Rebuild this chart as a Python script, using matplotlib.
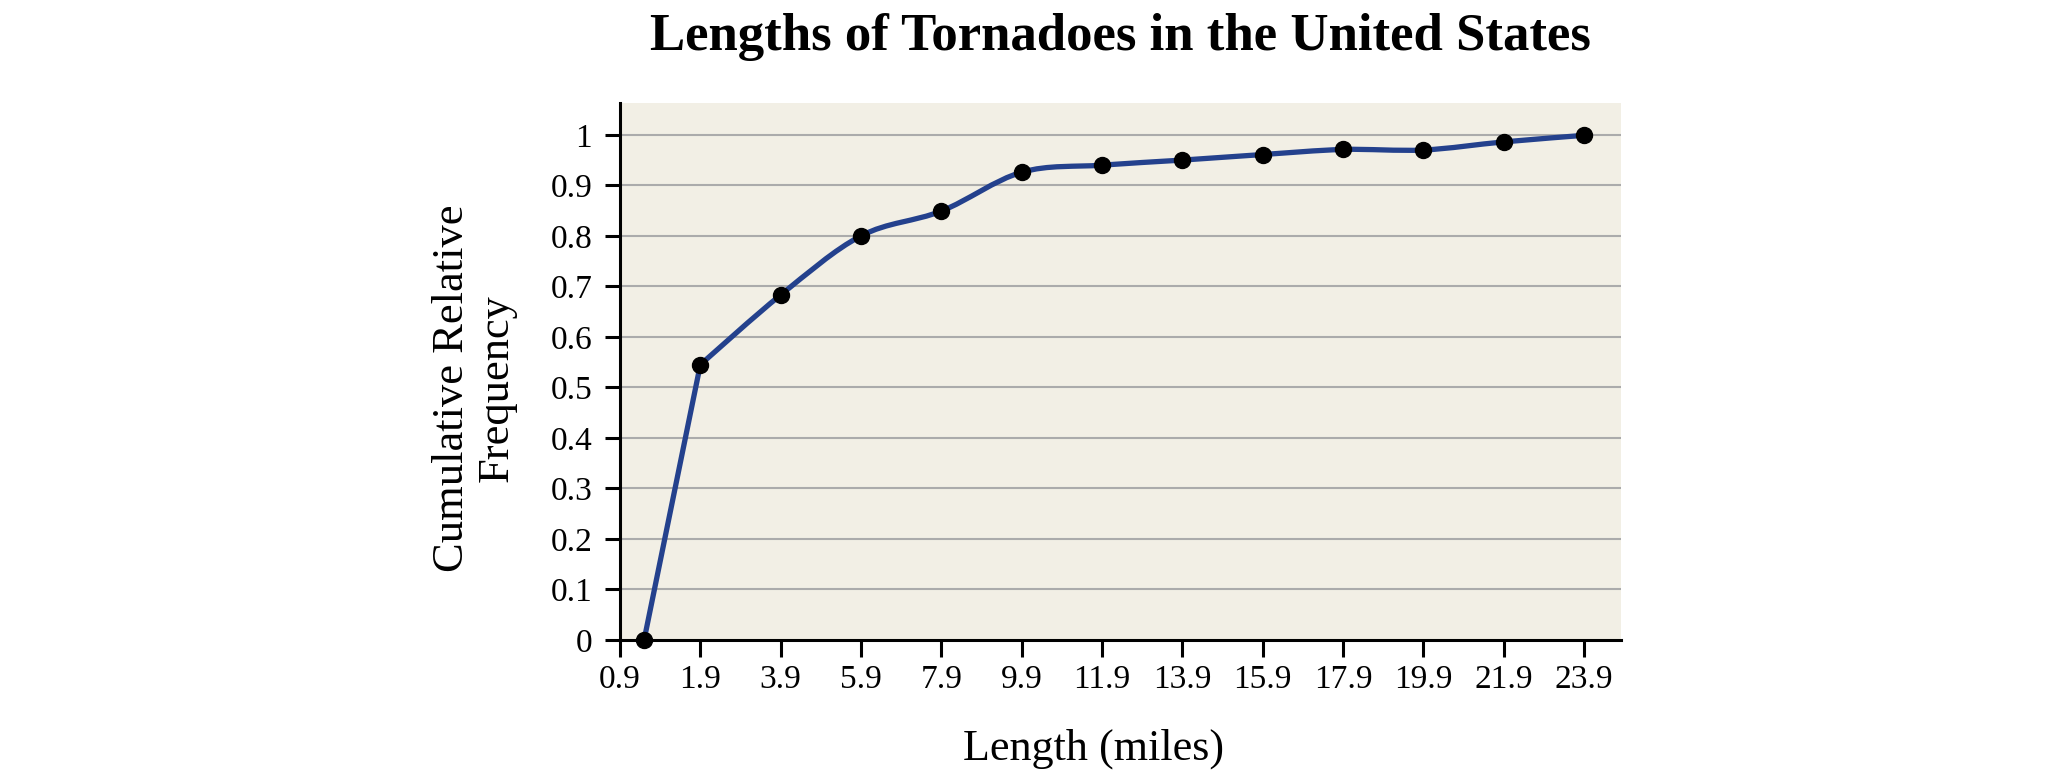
import numpy as np
import matplotlib
matplotlib.use("Agg")
import matplotlib.pyplot as plt
from matplotlib.path import Path
from matplotlib.patches import PathPatch

# ---- data ----
tick_labels = ["0.9", "1.9", "3.9", "5.9", "7.9", "9.9", "11.9", "13.9",
               "15.9", "17.9", "19.9", "21.9", "23.9"]
cum_rel_freq = [0.0, 0.545, 0.683, 0.800, 0.849, 0.926, 0.940, 0.950,
                0.961, 0.971, 0.970, 0.986, 0.999]
y_ticks = [0, 0.1, 0.2, 0.3, 0.4, 0.5, 0.6, 0.7, 0.8, 0.9, 1]
y_tick_labels = ["0", "0.1", "0.2", "0.3", "0.4", "0.5", "0.6", "0.7",
                 "0.8", "0.9", "1"]

title = "Lengths of Tornadoes in the United States"
xlabel = "Length (miles)"
ylabel = "Cumulative Relative\nFrequency"

# ---- style ----
plt.rcParams["font.family"] = ["Liberation Serif", "DejaVu Serif"]
bg = "#F2EFE5"
line_col = "#24418D"
grid_col = "#ABABAB"

W, H = 2048, 778
fig = plt.figure(figsize=(W / 100, H / 100), dpi=100)
ax = fig.add_axes([620 / W, 1 - 640 / H, (1621 - 620) / W, (640 - 103) / H])
ax.set_facecolor(bg)

n = len(cum_rel_freq)
px = np.arange(n, dtype=float)
px[0] = 0.3
py = np.array(cum_rel_freq)

# straight first segment, then a smooth curve (Catmull-Rom Bezier) from index 1
verts = [(px[0], py[0]), (px[1], py[1])]
codes = [Path.MOVETO, Path.LINETO]
for i in range(1, n - 1):
    p0 = np.array([px[max(i - 1, 1)], py[max(i - 1, 1)]])
    p1 = np.array([px[i], py[i]])
    p2 = np.array([px[i + 1], py[i + 1]])
    p3 = np.array([px[min(i + 2, n - 1)], py[min(i + 2, n - 1)]])
    c1 = p1 + (p2 - p0) / 6.0
    c2 = p2 - (p3 - p1) / 6.0
    verts += [tuple(c1), tuple(c2), tuple(p2)]
    codes += [Path.CURVE4, Path.CURVE4, Path.CURVE4]
patch = PathPatch(Path(verts, codes), facecolor="none", edgecolor=line_col,
                  lw=3.8, capstyle="round", joinstyle="round", zorder=3)
ax.add_patch(patch)
ax.plot(px, py, linestyle="none", marker="o", markersize=11.5,
        color="black", zorder=4, clip_on=False)

ax.set_xlim(0, 12.46)
ax.set_ylim(0, 1.063)
ax.set_xticks(np.arange(len(tick_labels)))
ax.set_xticklabels(tick_labels)
ax.set_yticks(y_ticks)
ax.set_yticklabels(y_tick_labels)

for yv in y_ticks[1:]:
    ax.axhline(yv, color=grid_col, lw=1.5, zorder=1)

for s in ["top", "right"]:
    ax.spines[s].set_visible(False)
for s in ["left", "bottom"]:
    ax.spines[s].set_linewidth(2.2)
    ax.spines[s].set_color("black")
    ax.spines[s].set_zorder(5)

ax.tick_params(axis="x", length=12, width=2.2, pad=6, labelsize=24)
ax.tick_params(axis="y", length=11, width=2.2, pad=9, labelsize=24)

fig.text(1120 / W, 1 - 50 / H, title, ha="center", va="baseline",
         fontsize=38, fontweight="bold")
fig.text(1094 / W, 1 - 760 / H, xlabel, ha="center", va="baseline",
         fontsize=31.8)
fig.text(474 / W, 1 - 388 / H, ylabel, ha="center", va="center",
         rotation=90, fontsize=32, linespacing=1.15, multialignment="center")

fig.savefig("out.png", dpi=100, facecolor="white")
